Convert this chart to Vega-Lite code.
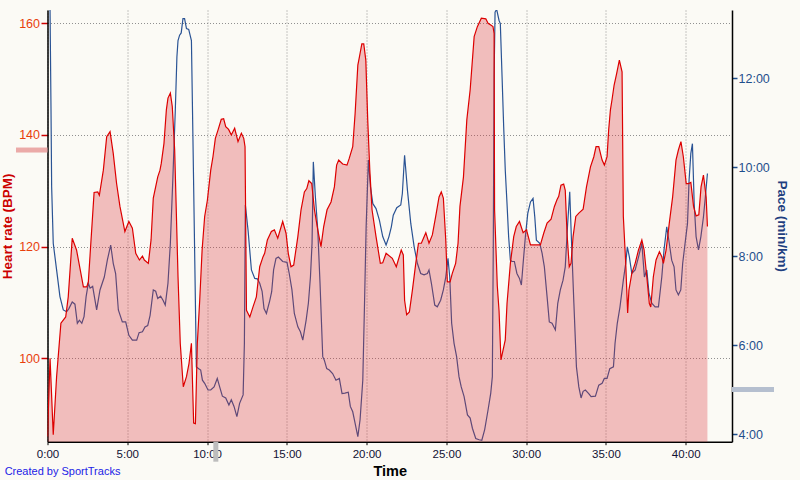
{
  "$schema": "https://vega.github.io/schema/vega-lite/v6.json",
  "width": 684.5,
  "height": 431.7,
  "autosize": {"type": "none"},
  "padding": {"left": 47.5, "top": 10, "right": 68, "bottom": 38.3},
  "background": "#FBFAF5",
  "config": {
    "view": {"stroke": null},
    "font": "Liberation Sans",
    "axis": {"labelFont": "Liberation Sans", "titleFont": "Liberation Sans"}
  },
  "title": {
    "text": "Created by SportTracks",
    "orient": "bottom",
    "anchor": "start",
    "frame": "bounds",
    "offset": -12,
    "dx": 4,
    "fontSize": 11,
    "font": "Liberation Sans",
    "fontWeight": "normal",
    "color": "#2222E6"
  },
  "datasets": {
    "hr": [
      {"t": 0, "hr": 86.0}, {"t": 0.16, "hr": 100}, {"t": 0.36, "hr": 86.3}, {"t": 0.57, "hr": 96.7},
      {"t": 0.84, "hr": 106.3}, {"t": 1.14, "hr": 107.4}, {"t": 1.30, "hr": 111.0}, {"t": 1.55, "hr": 121.5},
      {"t": 1.82, "hr": 119.4}, {"t": 2.25, "hr": 112.8}, {"t": 2.46, "hr": 112.8}, {"t": 2.56, "hr": 113.7},
      {"t": 2.92, "hr": 129.7}, {"t": 3.15, "hr": 129.8}, {"t": 3.25, "hr": 129.2}, {"t": 3.50, "hr": 133.7},
      {"t": 3.71, "hr": 139.7}, {"t": 3.92, "hr": 140.6}, {"t": 4.12, "hr": 136.7}, {"t": 4.33, "hr": 131.3},
      {"t": 4.54, "hr": 127.2}, {"t": 4.85, "hr": 122.7}, {"t": 5.10, "hr": 124.5}, {"t": 5.32, "hr": 123.3},
      {"t": 5.53, "hr": 118.8}, {"t": 5.76, "hr": 117.6}, {"t": 5.95, "hr": 118.3}, {"t": 6.07, "hr": 117.6},
      {"t": 6.32, "hr": 117.0}, {"t": 6.49, "hr": 121.2}, {"t": 6.63, "hr": 128.7}, {"t": 6.91, "hr": 132.5},
      {"t": 7.05, "hr": 133.7}, {"t": 7.13, "hr": 134.9}, {"t": 7.30, "hr": 138.5}, {"t": 7.45, "hr": 144.5},
      {"t": 7.55, "hr": 146.6}, {"t": 7.70, "hr": 147.5}, {"t": 7.82, "hr": 145.1}, {"t": 7.97, "hr": 137.3},
      {"t": 8.07, "hr": 126.6}, {"t": 8.18, "hr": 114.6}, {"t": 8.32, "hr": 102.7}, {"t": 8.51, "hr": 94.9},
      {"t": 8.71, "hr": 96.7}, {"t": 8.87, "hr": 99.1}, {"t": 9.02, "hr": 102.7}, {"t": 9.16, "hr": 88.4},
      {"t": 9.27, "hr": 88.3}, {"t": 9.39, "hr": 102.7}, {"t": 9.54, "hr": 110.4}, {"t": 9.69, "hr": 119.4},
      {"t": 9.85, "hr": 125.4}, {"t": 10.02, "hr": 128.3}, {"t": 10.23, "hr": 133.7}, {"t": 10.37, "hr": 136.1},
      {"t": 10.52, "hr": 139.4}, {"t": 10.69, "hr": 140.9}, {"t": 10.89, "hr": 142.8}, {"t": 11.04, "hr": 142.9},
      {"t": 11.17, "hr": 141.5}, {"t": 11.35, "hr": 141.0}, {"t": 11.52, "hr": 140.0}, {"t": 11.73, "hr": 141.2},
      {"t": 11.94, "hr": 138.8}, {"t": 12.15, "hr": 140.3}, {"t": 12.30, "hr": 139.4}, {"t": 12.38, "hr": 137.9},
      {"t": 12.47, "hr": 108.6}, {"t": 12.68, "hr": 107.4}, {"t": 12.88, "hr": 109.2}, {"t": 13.09, "hr": 111.0},
      {"t": 13.30, "hr": 116.4}, {"t": 13.51, "hr": 118.2}, {"t": 13.61, "hr": 118.8}, {"t": 13.78, "hr": 121.2},
      {"t": 14.03, "hr": 122.7}, {"t": 14.22, "hr": 123.0}, {"t": 14.43, "hr": 121.5}, {"t": 14.74, "hr": 124.5},
      {"t": 14.95, "hr": 122.4}, {"t": 15.09, "hr": 118.8}, {"t": 15.26, "hr": 116.4}, {"t": 15.43, "hr": 116.7},
      {"t": 15.69, "hr": 121.8}, {"t": 15.89, "hr": 126.6}, {"t": 16.10, "hr": 129.8}, {"t": 16.25, "hr": 130.4},
      {"t": 16.38, "hr": 131.8}, {"t": 16.56, "hr": 131.3}, {"t": 16.73, "hr": 126.6}, {"t": 16.94, "hr": 123.0},
      {"t": 17.14, "hr": 120.0}, {"t": 17.31, "hr": 123.6}, {"t": 17.52, "hr": 126.6}, {"t": 17.77, "hr": 128.0},
      {"t": 17.98, "hr": 130.7}, {"t": 18.12, "hr": 134.6}, {"t": 18.25, "hr": 135.5}, {"t": 18.50, "hr": 134.8},
      {"t": 18.77, "hr": 134.6}, {"t": 18.91, "hr": 135.8}, {"t": 19.13, "hr": 137.9}, {"t": 19.28, "hr": 143.9},
      {"t": 19.45, "hr": 152.5}, {"t": 19.55, "hr": 154.0}, {"t": 19.70, "hr": 156.3}, {"t": 19.82, "hr": 156.3},
      {"t": 19.95, "hr": 153.4}, {"t": 20.07, "hr": 142.7}, {"t": 20.20, "hr": 133.7}, {"t": 20.34, "hr": 126.6},
      {"t": 20.59, "hr": 121.8}, {"t": 20.86, "hr": 117.0}, {"t": 21.01, "hr": 117.1}, {"t": 21.22, "hr": 118.8},
      {"t": 21.61, "hr": 117.9}, {"t": 21.86, "hr": 116.4}, {"t": 22.17, "hr": 119.4}, {"t": 22.30, "hr": 118.5},
      {"t": 22.38, "hr": 110.4}, {"t": 22.51, "hr": 107.8}, {"t": 22.68, "hr": 108.3}, {"t": 22.87, "hr": 112.2},
      {"t": 23.08, "hr": 117.0}, {"t": 23.25, "hr": 120.6}, {"t": 23.43, "hr": 120.6}, {"t": 23.71, "hr": 122.5},
      {"t": 23.91, "hr": 120.6}, {"t": 24.12, "hr": 122.1}, {"t": 24.33, "hr": 125.4}, {"t": 24.54, "hr": 128.9},
      {"t": 24.68, "hr": 129.8}, {"t": 24.81, "hr": 128.7}, {"t": 24.96, "hr": 121.2}, {"t": 25.06, "hr": 113.7},
      {"t": 25.23, "hr": 113.7}, {"t": 25.37, "hr": 115.2}, {"t": 25.58, "hr": 117.0}, {"t": 25.73, "hr": 120.6},
      {"t": 25.85, "hr": 127.2}, {"t": 26.07, "hr": 132.5}, {"t": 26.28, "hr": 142.7}, {"t": 26.49, "hr": 148.1},
      {"t": 26.74, "hr": 157.6}, {"t": 26.94, "hr": 159.4}, {"t": 27.19, "hr": 160.9}, {"t": 27.47, "hr": 160.8},
      {"t": 27.61, "hr": 160.0}, {"t": 27.78, "hr": 159.7}, {"t": 27.92, "hr": 159.4}, {"t": 27.99, "hr": 158.2},
      {"t": 28.02, "hr": 126.6}, {"t": 28.19, "hr": 113.0}, {"t": 28.30, "hr": 108.5}, {"t": 28.42, "hr": 99.7},
      {"t": 28.69, "hr": 103.3}, {"t": 28.80, "hr": 109.8}, {"t": 29.01, "hr": 117.0}, {"t": 29.22, "hr": 121.8},
      {"t": 29.38, "hr": 123.6}, {"t": 29.58, "hr": 124.5}, {"t": 29.81, "hr": 122.5}, {"t": 30.02, "hr": 123.0},
      {"t": 30.27, "hr": 120.3}, {"t": 30.89, "hr": 120.3}, {"t": 31.10, "hr": 122.4}, {"t": 31.31, "hr": 124.2},
      {"t": 31.56, "hr": 124.9}, {"t": 31.77, "hr": 127.2}, {"t": 31.93, "hr": 128.4}, {"t": 32.04, "hr": 129.0},
      {"t": 32.18, "hr": 131.0}, {"t": 32.35, "hr": 131.2}, {"t": 32.45, "hr": 130.1}, {"t": 32.56, "hr": 122.4},
      {"t": 32.70, "hr": 116.4}, {"t": 32.81, "hr": 117.0}, {"t": 32.94, "hr": 121.8}, {"t": 33.11, "hr": 125.4},
      {"t": 33.30, "hr": 126.0}, {"t": 33.57, "hr": 126.7}, {"t": 33.78, "hr": 130.7}, {"t": 34.03, "hr": 134.3},
      {"t": 34.24, "hr": 136.1}, {"t": 34.38, "hr": 137.9}, {"t": 34.55, "hr": 137.9}, {"t": 34.76, "hr": 135.5},
      {"t": 34.90, "hr": 134.6}, {"t": 35.07, "hr": 136.1}, {"t": 35.17, "hr": 140.9}, {"t": 35.28, "hr": 144.5},
      {"t": 35.38, "hr": 146.3}, {"t": 35.51, "hr": 148.9}, {"t": 35.67, "hr": 151.0}, {"t": 35.84, "hr": 153.4},
      {"t": 36.01, "hr": 151.3}, {"t": 36.09, "hr": 125.4}, {"t": 36.24, "hr": 117.0}, {"t": 36.36, "hr": 108.1},
      {"t": 36.44, "hr": 112.2}, {"t": 36.62, "hr": 115.2}, {"t": 36.83, "hr": 117.0}, {"t": 37.04, "hr": 119.4},
      {"t": 37.25, "hr": 121.2}, {"t": 37.39, "hr": 119.4}, {"t": 37.56, "hr": 114.6}, {"t": 37.72, "hr": 109.8},
      {"t": 37.81, "hr": 109.2}, {"t": 37.97, "hr": 114.6}, {"t": 38.14, "hr": 117.6}, {"t": 38.35, "hr": 119.1},
      {"t": 38.50, "hr": 118.2}, {"t": 38.60, "hr": 117.0}, {"t": 38.77, "hr": 119.4}, {"t": 38.97, "hr": 124.2},
      {"t": 39.18, "hr": 128.9}, {"t": 39.39, "hr": 135.5}, {"t": 39.54, "hr": 137.3}, {"t": 39.70, "hr": 138.8},
      {"t": 39.85, "hr": 136.1}, {"t": 40.03, "hr": 131.3}, {"t": 40.17, "hr": 131.3}, {"t": 40.32, "hr": 131.5},
      {"t": 40.49, "hr": 127.2}, {"t": 40.65, "hr": 125.5}, {"t": 40.82, "hr": 125.7}, {"t": 40.96, "hr": 130.7},
      {"t": 41.11, "hr": 132.8}, {"t": 41.28, "hr": 128.9}, {"t": 41.36, "hr": 123.6}
    ],
    "pace": [
      {"t": 0.10, "pace": 14.5}, {"t": 0.16, "pace": 13.5}, {"t": 0.22, "pace": 11.28}, {"t": 0.26, "pace": 9.56},
      {"t": 0.36, "pace": 8.29}, {"t": 0.57, "pace": 7.69}, {"t": 0.78, "pace": 7.09}, {"t": 0.99, "pace": 6.79},
      {"t": 1.20, "pace": 6.75}, {"t": 1.34, "pace": 6.82}, {"t": 1.55, "pace": 6.97}, {"t": 1.72, "pace": 6.92},
      {"t": 1.87, "pace": 6.49}, {"t": 2.00, "pace": 6.56}, {"t": 2.15, "pace": 6.49}, {"t": 2.29, "pace": 6.64},
      {"t": 2.42, "pace": 7.09}, {"t": 2.56, "pace": 7.39}, {"t": 2.67, "pace": 7.28}, {"t": 2.83, "pace": 7.32},
      {"t": 3.08, "pace": 6.79}, {"t": 3.29, "pace": 7.24}, {"t": 3.56, "pace": 7.53}, {"t": 3.75, "pace": 7.91},
      {"t": 3.96, "pace": 8.25}, {"t": 4.12, "pace": 7.84}, {"t": 4.27, "pace": 7.61}, {"t": 4.44, "pace": 6.79},
      {"t": 4.69, "pace": 6.52}, {"t": 4.90, "pace": 6.52}, {"t": 5.10, "pace": 6.22}, {"t": 5.32, "pace": 6.11},
      {"t": 5.59, "pace": 6.11}, {"t": 5.74, "pace": 6.28}, {"t": 5.95, "pace": 6.30}, {"t": 6.11, "pace": 6.41},
      {"t": 6.28, "pace": 6.44}, {"t": 6.43, "pace": 6.67}, {"t": 6.63, "pace": 7.24}, {"t": 6.78, "pace": 7.21},
      {"t": 6.91, "pace": 7.05}, {"t": 7.09, "pace": 7.10}, {"t": 7.24, "pace": 7.01}, {"t": 7.38, "pace": 6.90},
      {"t": 7.55, "pace": 7.39}, {"t": 7.70, "pace": 8.29}, {"t": 7.86, "pace": 9.78}, {"t": 8.01, "pace": 11.28},
      {"t": 8.11, "pace": 12.48}, {"t": 8.18, "pace": 12.85}, {"t": 8.28, "pace": 12.97}, {"t": 8.38, "pace": 13.02},
      {"t": 8.49, "pace": 13.34}, {"t": 8.59, "pace": 13.34}, {"t": 8.71, "pace": 13.12}, {"t": 8.85, "pace": 13.10},
      {"t": 9.02, "pace": 12.85}, {"t": 9.12, "pace": 10.53}, {"t": 9.23, "pace": 7.91}, {"t": 9.33, "pace": 5.51},
      {"t": 9.48, "pace": 5.47}, {"t": 9.60, "pace": 5.44}, {"t": 9.71, "pace": 5.21}, {"t": 9.85, "pace": 5.14},
      {"t": 10.06, "pace": 4.99}, {"t": 10.23, "pace": 4.99}, {"t": 10.44, "pace": 5.06}, {"t": 10.64, "pace": 5.25},
      {"t": 10.79, "pace": 5.06}, {"t": 10.96, "pace": 4.85}, {"t": 11.17, "pace": 4.81}, {"t": 11.37, "pace": 4.65},
      {"t": 11.52, "pace": 4.77}, {"t": 11.69, "pace": 4.62}, {"t": 11.87, "pace": 4.39}, {"t": 12.04, "pace": 4.69},
      {"t": 12.26, "pace": 4.88}, {"t": 12.34, "pace": 6.04}, {"t": 12.40, "pace": 9.15}, {"t": 12.57, "pace": 8.58},
      {"t": 12.78, "pace": 7.69}, {"t": 12.99, "pace": 7.50}, {"t": 13.15, "pace": 7.49}, {"t": 13.30, "pace": 7.39},
      {"t": 13.45, "pace": 7.21}, {"t": 13.57, "pace": 6.82}, {"t": 13.72, "pace": 6.71}, {"t": 13.93, "pace": 7.00},
      {"t": 14.05, "pace": 7.20}, {"t": 14.17, "pace": 7.69}, {"t": 14.32, "pace": 7.95}, {"t": 14.47, "pace": 7.98},
      {"t": 14.74, "pace": 7.88}, {"t": 15.01, "pace": 7.86}, {"t": 15.15, "pace": 7.61}, {"t": 15.32, "pace": 7.24},
      {"t": 15.47, "pace": 6.71}, {"t": 15.69, "pace": 6.41}, {"t": 15.85, "pace": 6.30}, {"t": 16.00, "pace": 6.11},
      {"t": 16.21, "pace": 6.56}, {"t": 16.35, "pace": 6.94}, {"t": 16.48, "pace": 7.53}, {"t": 16.58, "pace": 8.29},
      {"t": 16.66, "pace": 10.12}, {"t": 16.79, "pace": 9.33}, {"t": 16.94, "pace": 8.58}, {"t": 17.08, "pace": 7.39},
      {"t": 17.25, "pace": 5.74}, {"t": 17.35, "pace": 5.66}, {"t": 17.50, "pace": 5.47}, {"t": 17.66, "pace": 5.44},
      {"t": 17.87, "pace": 5.36}, {"t": 18.08, "pace": 5.21}, {"t": 18.29, "pace": 5.25}, {"t": 18.46, "pace": 4.91},
      {"t": 18.64, "pace": 4.92}, {"t": 18.85, "pace": 4.94}, {"t": 18.98, "pace": 4.62}, {"t": 19.13, "pace": 4.50},
      {"t": 19.28, "pace": 4.24}, {"t": 19.45, "pace": 3.94}, {"t": 19.59, "pace": 4.32}, {"t": 19.76, "pace": 5.21},
      {"t": 19.86, "pace": 6.79}, {"t": 19.97, "pace": 8.66}, {"t": 20.11, "pace": 10.16}, {"t": 20.24, "pace": 9.56},
      {"t": 20.39, "pace": 9.18}, {"t": 20.59, "pace": 9.07}, {"t": 20.80, "pace": 8.81}, {"t": 21.01, "pace": 8.44},
      {"t": 21.22, "pace": 8.25}, {"t": 21.40, "pace": 8.44}, {"t": 21.55, "pace": 8.66}, {"t": 21.67, "pace": 8.92},
      {"t": 21.89, "pace": 9.09}, {"t": 22.14, "pace": 9.15}, {"t": 22.24, "pace": 9.41}, {"t": 22.38, "pace": 10.27},
      {"t": 22.56, "pace": 9.48}, {"t": 22.77, "pace": 8.73}, {"t": 22.98, "pace": 8.21}, {"t": 23.18, "pace": 7.84},
      {"t": 23.39, "pace": 7.61}, {"t": 23.60, "pace": 7.58}, {"t": 23.81, "pace": 7.61}, {"t": 23.91, "pace": 7.69},
      {"t": 24.06, "pace": 7.39}, {"t": 24.27, "pace": 6.90}, {"t": 24.43, "pace": 6.86}, {"t": 24.64, "pace": 7.01},
      {"t": 24.81, "pace": 7.24}, {"t": 24.96, "pace": 7.53}, {"t": 25.10, "pace": 7.95}, {"t": 25.21, "pace": 7.53},
      {"t": 25.33, "pace": 6.49}, {"t": 25.48, "pace": 6.04}, {"t": 25.64, "pace": 5.74}, {"t": 25.79, "pace": 5.29},
      {"t": 25.93, "pace": 5.06}, {"t": 26.11, "pace": 4.84}, {"t": 26.32, "pace": 4.43}, {"t": 26.49, "pace": 4.36},
      {"t": 26.63, "pace": 4.13}, {"t": 26.84, "pace": 3.90}, {"t": 27.05, "pace": 3.87}, {"t": 27.22, "pace": 3.86},
      {"t": 27.40, "pace": 4.10}, {"t": 27.61, "pace": 4.54}, {"t": 27.78, "pace": 4.92}, {"t": 27.88, "pace": 5.29},
      {"t": 27.94, "pace": 8.29}, {"t": 27.99, "pace": 12.03}, {"t": 28.05, "pace": 13.49}, {"t": 28.15, "pace": 13.55},
      {"t": 28.30, "pace": 13.30}, {"t": 28.38, "pace": 13.23}, {"t": 28.49, "pace": 12.03}, {"t": 28.59, "pace": 10.91},
      {"t": 28.69, "pace": 9.93}, {"t": 28.80, "pace": 9.18}, {"t": 28.90, "pace": 8.44}, {"t": 29.01, "pace": 7.91},
      {"t": 29.11, "pace": 7.88}, {"t": 29.26, "pace": 7.88}, {"t": 29.42, "pace": 7.61}, {"t": 29.58, "pace": 7.50},
      {"t": 29.70, "pace": 7.35}, {"t": 29.81, "pace": 7.84}, {"t": 29.95, "pace": 8.44}, {"t": 30.10, "pace": 8.96},
      {"t": 30.27, "pace": 9.22}, {"t": 30.43, "pace": 9.30}, {"t": 30.54, "pace": 8.88}, {"t": 30.64, "pace": 8.36},
      {"t": 30.85, "pace": 8.29}, {"t": 31.00, "pace": 8.06}, {"t": 31.14, "pace": 7.76}, {"t": 31.31, "pace": 7.09},
      {"t": 31.45, "pace": 6.52}, {"t": 31.62, "pace": 6.49}, {"t": 31.83, "pace": 6.34}, {"t": 31.98, "pace": 6.94},
      {"t": 32.14, "pace": 7.24}, {"t": 32.31, "pace": 7.46}, {"t": 32.45, "pace": 7.76}, {"t": 32.60, "pace": 8.73},
      {"t": 32.73, "pace": 9.45}, {"t": 32.83, "pace": 8.44}, {"t": 32.99, "pace": 6.94}, {"t": 33.15, "pace": 5.51},
      {"t": 33.30, "pace": 5.06}, {"t": 33.44, "pace": 4.81}, {"t": 33.57, "pace": 4.96}, {"t": 33.71, "pace": 4.99},
      {"t": 33.92, "pace": 4.91}, {"t": 34.07, "pace": 4.84}, {"t": 34.34, "pace": 4.85}, {"t": 34.55, "pace": 5.10},
      {"t": 34.76, "pace": 5.14}, {"t": 34.90, "pace": 5.25}, {"t": 35.07, "pace": 5.25}, {"t": 35.24, "pace": 5.47},
      {"t": 35.47, "pace": 5.51}, {"t": 35.57, "pace": 6.04}, {"t": 35.71, "pace": 6.49}, {"t": 35.88, "pace": 6.86},
      {"t": 36.09, "pace": 7.46}, {"t": 36.24, "pace": 7.84}, {"t": 36.34, "pace": 8.21}, {"t": 36.47, "pace": 7.98},
      {"t": 36.62, "pace": 7.61}, {"t": 36.83, "pace": 7.69}, {"t": 37.04, "pace": 7.98}, {"t": 37.25, "pace": 8.29},
      {"t": 37.41, "pace": 7.53}, {"t": 37.56, "pace": 7.69}, {"t": 37.70, "pace": 7.16}, {"t": 37.87, "pace": 6.94},
      {"t": 38.08, "pace": 6.86}, {"t": 38.29, "pace": 6.86}, {"t": 38.50, "pace": 7.53}, {"t": 38.64, "pace": 8.14},
      {"t": 38.81, "pace": 8.66}, {"t": 38.97, "pace": 8.29}, {"t": 39.12, "pace": 7.91}, {"t": 39.27, "pace": 7.76},
      {"t": 39.39, "pace": 7.24}, {"t": 39.54, "pace": 7.13}, {"t": 39.69, "pace": 7.24}, {"t": 39.81, "pace": 7.84},
      {"t": 39.96, "pace": 8.29}, {"t": 40.11, "pace": 8.73}, {"t": 40.21, "pace": 9.71}, {"t": 40.32, "pace": 10.31},
      {"t": 40.42, "pace": 10.53}, {"t": 40.53, "pace": 9.18}, {"t": 40.65, "pace": 8.44}, {"t": 40.80, "pace": 8.14},
      {"t": 40.95, "pace": 8.44}, {"t": 41.11, "pace": 8.88}, {"t": 41.23, "pace": 9.33}, {"t": 41.36, "pace": 9.86}
    ],
    "avg": [{"t": 10.55, "hr": 137.3, "pace": 5.0}]
  },
  "encoding": {
    "x": {
      "field": "t",
      "type": "quantitative",
      "scale": {"domain": [0, 42.9], "nice": false, "zero": false},
      "axis": {
        "title": "Time",
        "values": [0, 5, 10, 15, 20, 25, 30, 35, 40],
        "labelExpr": "datum.value + ':00'",
        "grid": true,
        "gridColor": "#909090",
        "gridDash": [1, 2],
        "gridWidth": 1,
        "domainColor": "#000000",
        "domainWidth": 1.5,
        "tickColor": "#000000",
        "tickSize": 3,
        "labelPadding": 4,
        "labelFontSize": 11.5,
        "labelColor": "#111133",
        "labelFlush": false,
        "titleFontSize": 14.5,
        "titleFontWeight": "bold",
        "titleColor": "#000000",
        "titlePadding": 4
      }
    }
  },
  "layer": [
    {
      "data": {"name": "pace"},
      "mark": {"type": "line", "color": "#2A5394", "strokeWidth": 1.2, "clip": true},
      "encoding": {
        "y": {
          "field": "pace",
          "type": "quantitative",
          "scale": {"domain": [3.827, 13.536], "nice": false, "zero": false},
          "axis": {
            "orient": "right",
            "title": "Pace (min/km)",
            "values": [4, 6, 8, 10, 12],
            "labelExpr": "datum.value + ':00'",
            "grid": false,
            "domainColor": "#000000",
            "domainWidth": 1.5,
            "tickColor": "#1F4E8C",
            "tickSize": 5,
            "tickWidth": 1.5,
            "labelPadding": 1,
            "labelFontSize": 12.5,
            "labelColor": "#1F4E8C",
            "titleFontSize": 13.5,
            "titleFontWeight": "bold",
            "titleColor": "#1F3F7F",
            "titlePadding": 5
          }
        }
      }
    },
    {
      "data": {"name": "hr"},
      "encoding": {
        "y": {
          "field": "hr",
          "type": "quantitative",
          "scale": {"domain": [85.06, 162.38], "nice": false, "zero": false},
          "axis": {
            "orient": "left",
            "title": "Heart rate (BPM)",
            "values": [100, 120, 140, 160],
            "grid": true,
            "gridColor": "#909090",
            "gridDash": [1, 2],
            "gridWidth": 1,
            "domainColor": "#000000",
            "domainWidth": 1.5,
            "tickColor": "#CC0000",
            "tickSize": 6.5,
            "tickWidth": 1.5,
            "labelPadding": 1.5,
            "labelFontSize": 12.5,
            "labelColor": "#E8400C",
            "titleFontSize": 13.5,
            "titleFontWeight": "bold",
            "titleColor": "#CC0000",
            "titlePadding": 4
          }
        }
      },
      "layer": [
        {"mark": {"type": "area", "color": "#D93138", "fillOpacity": 0.3, "clip": true}},
        {"mark": {"type": "line", "color": "#DD0000", "strokeWidth": 1.2, "clip": true}}
      ]
    },
    {
      "data": {"name": "avg"},
      "mark": {"type": "rule", "color": "#EBAAA8", "strokeWidth": 5},
      "encoding": {
        "x": {"value": -31.5},
        "x2": {"value": 0},
        "y": {
          "field": "hr",
          "type": "quantitative",
          "scale": {"domain": [85.06, 162.38], "nice": false, "zero": false},
          "axis": null
        }
      }
    },
    {
      "data": {"name": "avg"},
      "mark": {"type": "rule", "color": "#B5BFCF", "strokeWidth": 5},
      "encoding": {
        "x": {"value": 684.5},
        "x2": {"value": 726.5},
        "y": {
          "field": "pace",
          "type": "quantitative",
          "scale": {"domain": [3.827, 13.536], "nice": false, "zero": false},
          "axis": null
        }
      }
    },
    {
      "data": {"name": "avg"},
      "mark": {"type": "rule", "color": "#BDBDBD", "strokeWidth": 5},
      "encoding": {
        "y": {"value": 431.7},
        "y2": {"value": 451.7}
      }
    }
  ],
  "resolve": {"scale": {"y": "independent"}, "axis": {"y": "independent"}}
}
